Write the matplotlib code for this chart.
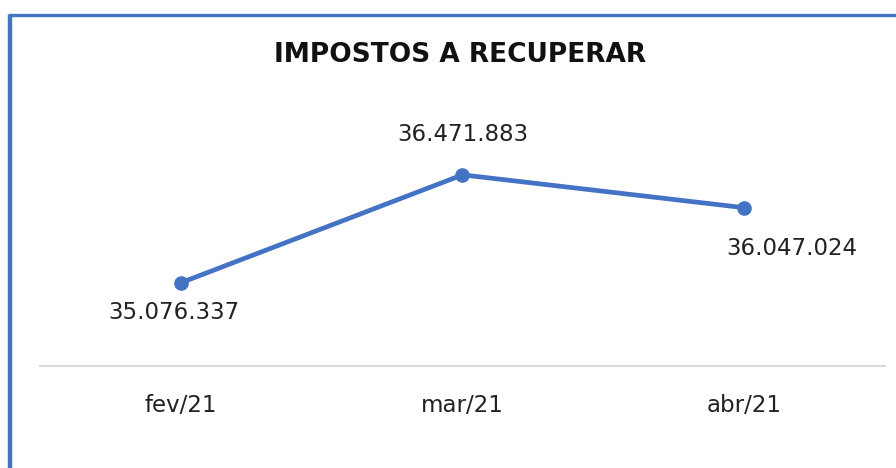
import matplotlib.pyplot as plt
from matplotlib.lines import Line2D

meses = ['fev/21', 'mar/21', 'abr/21']
valores = [35076337, 36471883, 36047024]
rotulos = ['35.076.337', '36.471.883', '36.047.024']

azul = '#4472C4'
plt.rcParams['font.family'] = ['DejaVu Sans']

fig = plt.figure(figsize=(8.96, 4.68), dpi=100)
ax = fig.add_axes([40 / 896, 1 - 366 / 468, 845 / 896, 232 / 468])

x = list(range(len(meses)))
ax.plot(x, valores, color=azul, linewidth=3.4, marker='o', markersize=9.5,
        solid_capstyle='round')

# posição dos rótulos em pontos (abaixo, acima, abaixo-direita)
offsets = [(-5, -21.6), (0, 28.8), (34.5, -29.5)]
for xi, v, txt, off in zip(x, valores, rotulos, offsets):
    ax.annotate(txt, (xi, v), xytext=off, textcoords='offset points',
                ha='center', va='center', fontsize=16.5, color='#222222')

ax.set_xlim(-0.5, 2.5)
ax.set_ylim(34000000, 37000000)
ax.set_xticks(x)
ax.set_xticklabels(meses, fontsize=16.5, color='#222222')
ax.tick_params(axis='x', length=0, pad=20.5)
ax.set_yticks([])
for s in ['top', 'right', 'left']:
    ax.spines[s].set_visible(False)
ax.spines['bottom'].set_color('#d9d9d9')
ax.spines['bottom'].set_linewidth(1.5)

fig.text(460 / 896, 1 - 55 / 468, 'IMPOSTOS A RECUPERAR', ha='center',
         va='center', fontsize=19, fontweight='bold', color='#111111')

# moldura azul (esquerda e topo)
fig.add_artist(Line2D([10 / 896, 10 / 896], [0, 1 - 14.5 / 468],
                      color=azul, linewidth=3.2, transform=fig.transFigure,
                      solid_capstyle='butt'))
fig.add_artist(Line2D([8 / 896, 1], [1 - 14.5 / 468, 1 - 14.5 / 468],
                      color=azul, linewidth=2.4, transform=fig.transFigure,
                      solid_capstyle='butt'))

fig.savefig('out.png', dpi=100)
